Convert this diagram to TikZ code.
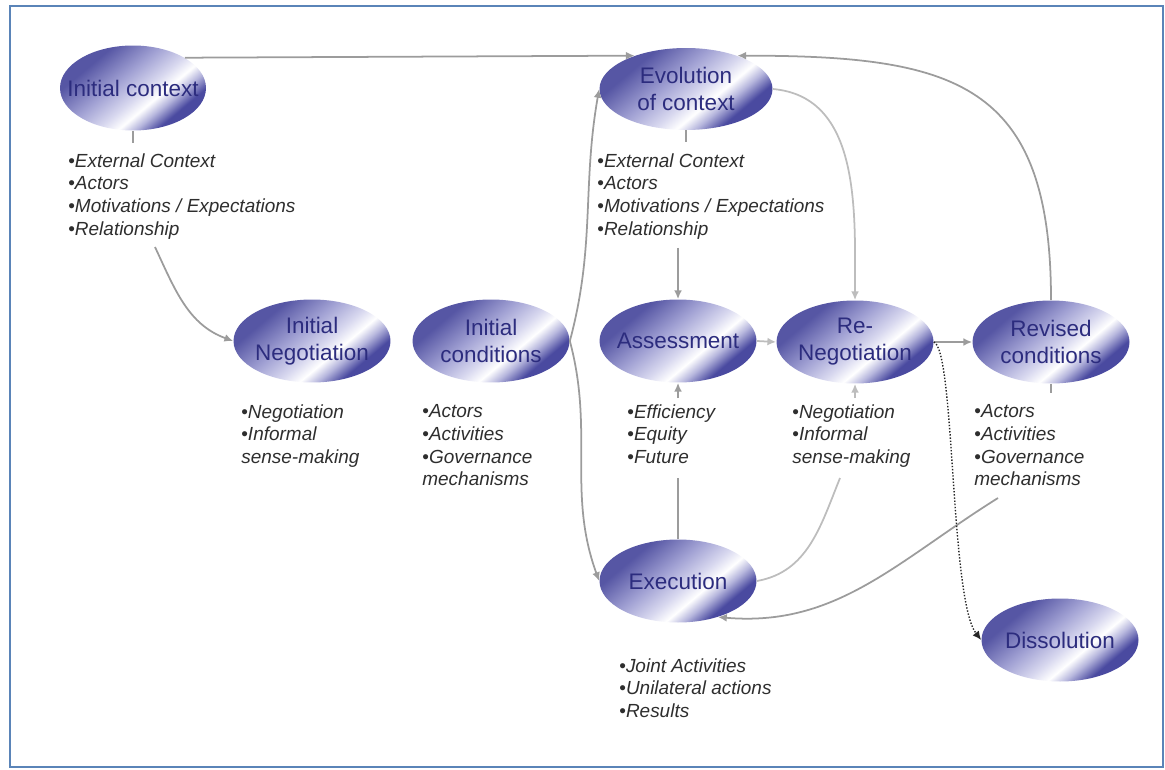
\documentclass[tikz,border=0pt]{standalone}
\usepackage{fontspec}
\setmainfont{Liberation Sans}
\usetikzlibrary{shapes.geometric,arrows.meta}

\definecolor{knotendunkel}{HTML}{5656A4}
\definecolor{knotenmitte}{HTML}{A2A2D4}
\definecolor{knotenhell}{HTML}{D8D8EF}
\definecolor{knotenabend}{HTML}{B6B6DD}
\definecolor{knotenende}{HTML}{4A4AA0}
\definecolor{schrift}{HTML}{2C2C7E}
\definecolor{listenfarbe}{HTML}{2E2E2E}
\definecolor{liniengrau}{HTML}{9C9C9C}
\definecolor{hellgrau}{HTML}{BDBDBD}
\definecolor{rahmenblau}{HTML}{5A84B8}

\pgfdeclarehorizontalshading{ellipsenverlauf}{100bp}{%
  color(0bp)=(knotendunkel); color(30bp)=(knotendunkel);
  color(44bp)=(knotenmitte); color(54bp)=(knotenhell);
  color(60bp)=(white); color(65bp)=(knotenabend);
  color(71bp)=(knotenende); color(100bp)=(knotenende)}

\newcommand\pkt{{\upshape\textbullet}}

\tikzset{
  knoten/.style={ellipse,shade,shading=ellipsenverlauf,shading angle=-50,
    minimum width=3.14cm,minimum height=1.66cm,inner sep=0pt},
  knotentext/.style={text=schrift,align=center,
    font=\fontsize{12.8}{15.4}\selectfont},
  liste/.style={anchor=north west,inner sep=0pt,align=left,text=listenfarbe,
    font=\itshape\fontsize{10.8}{13}\selectfont},
  linie/.style={draw=liniengrau,line width=1pt},
  hellinie/.style={draw=hellgrau,line width=1pt},
  pfeil/.style={linie,->},
  hellpfeil/.style={hellinie,->},
  punktpfeil/.style={draw=black!85,line width=0.8pt,densely dotted,->}
}

\begin{document}
\begin{tikzpicture}[>={Latex[length=5pt,width=4.5pt]},x=0.02cm,y=0.02cm]

\def\bildbreite{1165}
\def\bildhoehe{769}

\useasboundingbox (0,0) rectangle (\bildbreite,\bildhoehe);

\draw[rahmenblau,line width=1.1pt] (10,2) rectangle (1163,763);

% Phasen
\node (ic) at (133,681)
	[knoten,minimum width=2.92cm,minimum height=1.7cm,
	label={[knotentext]center:Initial context}] {};

\node (evo) at (686,680)
	[knoten,minimum width=3.46cm,minimum height=1.64cm,
	label={[knotentext]center:{Evolution\\of context}}] {};

\node (ineg) at (312,428)
	[knoten,label={[knotentext]center:{Initial\\Negotiation}}] {};

\node (icond) at (491,428)
	[knoten,label={[knotentext]center:{Initial\\conditions}}] {};

\node (ass) at (678,428)
	[knoten,label={[knotentext]center:Assessment}] {};

\node (reneg) at (855,427)
	[knoten,label={[knotentext]center:{Re-\\Negotiation}}] {};

\node (rev) at (1051,427)
	[knoten,label={[knotentext]center:{Revised\\conditions}}] {};

\node (exe) at (678,188)
	[knoten,label={[knotentext]center:Execution}] {};

\node (diss) at (1060,129)
	[knoten,label={[knotentext]center:Dissolution}] {};

% Stichpunkte
\node (icL) at (68,616) [liste]
	{\pkt External Context\\\pkt Actors\\\pkt Motivations / Expectations\\\pkt Relationship};

\node (evoL) at (597,616) [liste]
	{\pkt External Context\\\pkt Actors\\\pkt Motivations / Expectations\\\pkt Relationship};

\node (inegL) at (241,365) [liste]
	{\pkt Negotiation\\\pkt Informal\\sense-making};

\node (icondL) at (422,365) [liste]
	{\pkt Actors\\\pkt Activities\\\pkt Governance\\mechanisms};

\node (assL) at (627,365) [liste]
	{\pkt Efficiency\\\pkt Equity\\\pkt Future};

\node (renegL) at (792,365) [liste]
	{\pkt Negotiation\\\pkt Informal\\sense-making};

\node (revL) at (974,365) [liste]
	{\pkt Actors\\\pkt Activities\\\pkt Governance\\mechanisms};

\node (exeL) at (619,111) [liste]
	{\pkt Joint Activities\\\pkt Unilateral actions\\\pkt Results};

% Verbindungen
\coordinate (icL-fuss) at (155,522);
\coordinate (renegL-fuss) at (840,291);
\coordinate (revL-fuss) at (998,271);

\draw[pfeil] (ic.north east) -- (evo.147);
\draw[linie,shorten >=0.2cm] (ic.south) -- (ic.south |- icL.north);
\draw[linie,shorten >=0.22cm] (evo.south) -- (evo.south |- evoL.north);
\draw[pfeil] (icL-fuss) to[out=-65,in=160] (ineg.west);
\draw[pfeil] (icond.east) to[out=75,in=-100] (evo.west);
\draw[pfeil] (icond.east) to[out=-75,in=110] (exe.west);
\draw[pfeil,shorten <=0.16cm] (evoL.south -| ass.north) -- (ass.north);
\draw[hellpfeil] (evo.east) to[out=-5,in=90] (reneg.north);
\draw[hellpfeil] (ass.east) -- (reneg.west);
\draw[pfeil] (reneg.east) -- (rev.west);
\draw[pfeil] (rev.north) to[out=90,in=0,looseness=1.4] (evo.33);
\draw[linie,shorten >=0.22cm] (rev.south) -- (rev.south |- revL.north);
\draw[pfeil,shorten <=0.12cm] (assL.north -| ass.south) -- (ass.south);
\draw[linie,shorten >=0.27cm] (exe.north) -- (exe.north |- assL.south);
\draw[hellpfeil,shorten <=0.12cm] (renegL.north -| reneg.south) -- (reneg.south);
\draw[hellinie] (exe.east) to[out=10,in=248] (renegL-fuss);
\draw[pfeil] (revL-fuss) to[out=212,in=-5] (exe.-42);
\draw[punktpfeil] (reneg.east) .. controls (955,419) and (950,169) .. (diss.west);

\end{tikzpicture}
\end{document}
